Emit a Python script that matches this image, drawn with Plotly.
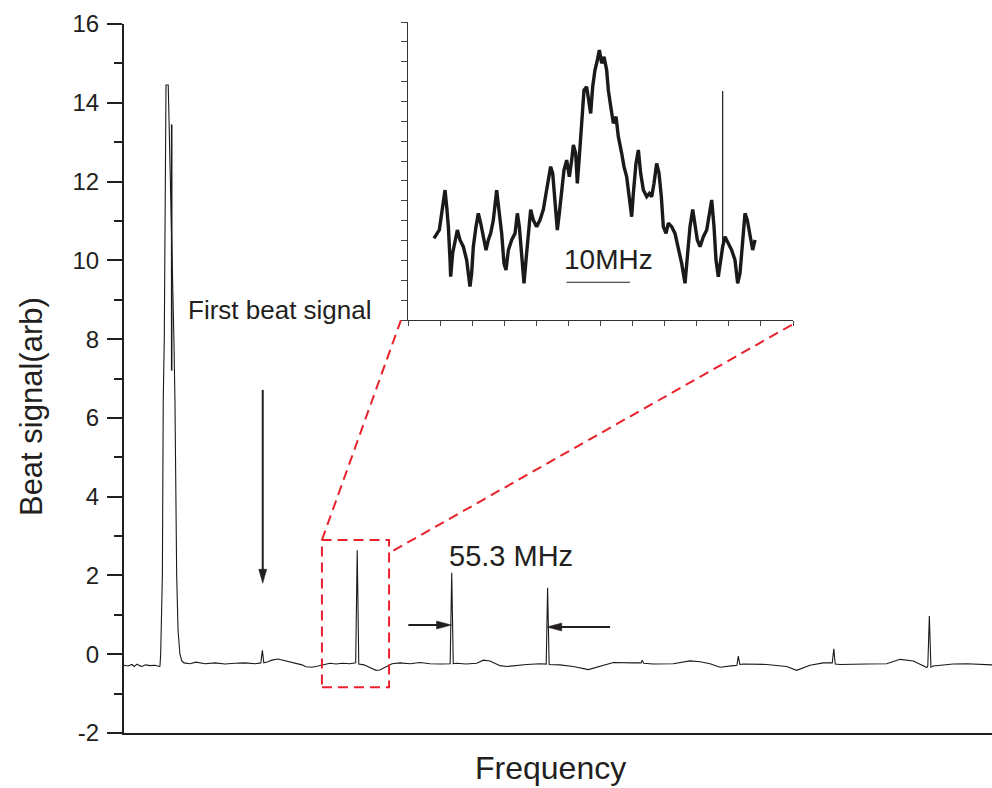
import plotly.graph_objects as go

# ---------------- main spectrum (x in MHz, y in arb) ----------------
main_x = [0.0, 2.3, 4.6, 6.0, 7.6, 9.0, 10.5, 12.5, 15.1, 18.0, 20.3, 20.9, 21.3, 22.3, 22.8, 23.4,
          24.4, 25.7, 29.0, 29.6, 30.6, 31.4, 32.5, 33.7, 34.9, 38.3, 41.8, 47.1, 52.9, 58.7, 64.5,
          70.3, 76.1, 79.5, 80.4, 81.2, 83.7, 86.0, 89.5, 93.0, 96.4, 99.9, 103.4, 105.7, 109.2,
          112.7, 116.2, 119.7, 123.2, 126.7, 131.3, 134.6, 135.5, 136.4, 139.4, 142.9, 146.4, 148.6,
          152.2, 155.7, 160.4, 166.2, 172.0, 177.8, 183.6, 189.5, 190.4, 191.3, 193.3, 198.7, 204.9,
          208.8, 212.6, 218.5, 222.5, 226.0, 234.0, 241.7, 245.3, 246.1, 247.0, 253.3, 261.0, 269.8,
          276.6, 284.3, 295.9, 300.4, 301.1, 301.9, 307.5, 319.1, 328.8, 334.7, 340.5, 346.3, 354.0,
          356.1, 356.9, 357.8, 359.8, 373.4, 385.0, 390.8, 398.6, 406.3, 411.5, 412.4, 413.2, 416.0,
          431.5, 443.1, 450.9, 458.6, 466.4, 467.0, 467.9, 468.8, 470.2, 481.8, 489.6, 503.1, 504.3]
main_y = [-0.28, -0.30, -0.26, -0.31, -0.25, -0.29, -0.31, -0.27, -0.29, -0.28, -0.31, -0.30, 0.0,
          2.0, 6.45, 8.0, 14.45, 14.45, 8.0, 6.45, 2.0, 0.6, 0.0, -0.18, -0.22, -0.24, -0.20, -0.24,
          -0.22, -0.25, -0.23, -0.22, -0.24, -0.22, 0.10, -0.22, -0.19, -0.15, -0.12, -0.16, -0.20,
          -0.24, -0.27, -0.32, -0.33, -0.30, -0.26, -0.23, -0.25, -0.23, -0.24, -0.22, 2.64, -0.25,
          -0.27, -0.34, -0.41, -0.40, -0.32, -0.24, -0.22, -0.24, -0.21, -0.24, -0.25, -0.24, 2.07,
          -0.24, -0.23, -0.25, -0.23, -0.15, -0.17, -0.29, -0.31, -0.29, -0.26, -0.24, -0.25, 1.69,
          -0.26, -0.27, -0.31, -0.39, -0.31, -0.21, -0.22, -0.22, -0.15, -0.23, -0.25, -0.24, -0.17,
          -0.19, -0.24, -0.33, -0.29, -0.28, -0.05, -0.26, -0.25, -0.26, -0.31, -0.41, -0.28, -0.22,
          -0.22, 0.14, -0.25, -0.26, -0.25, -0.24, -0.13, -0.17, -0.34, -0.30, 0.97, -0.33, -0.30,
          -0.25, -0.24, -0.27, -0.27]

# second (inner) line of the saturated first beat peak
spike_x = [27.7, 27.7]
spike_y = [7.2, 13.45]

y_tickvals = [-2, 0, 2, 4, 6, 8, 10, 12, 14, 16]
y_ticktext = ["-2", "0", "2", "4", "6", "8", "10", "12", "14", "16"]

# ---------------- inset: zoom on the boxed peak (x in MHz) ----------------
inset_x = [4.05, 4.47, 4.88, 5.25, 5.51, 5.77, 6.03, 6.29, 6.55, 6.65, 6.96, 7.32, 7.69, 8.10, 8.62,
           9.14, 9.66, 9.92, 10.18, 10.60, 10.96, 11.33, 11.74, 12.16, 12.52, 12.88, 13.30, 13.82,
           14.23, 14.60, 14.96, 15.27, 15.64, 16.16, 16.68, 17.04, 17.35, 17.72, 18.08, 18.39, 18.75,
           19.12, 19.53, 20.05, 20.57, 21.09, 21.51, 21.87, 22.23, 22.55, 22.91, 23.27, 23.58, 23.95,
           24.31, 24.73, 25.14, 25.51, 25.77, 26.13, 26.39, 26.70, 27.07, 27.43, 27.84, 28.21, 28.47,
           28.78, 29.14, 29.51, 29.82, 30.18, 30.55, 30.96, 31.22, 31.59, 32.00, 32.42, 32.78, 33.30,
           33.66, 34.08, 34.50, 34.86, 35.12, 35.53, 35.90, 36.26, 36.68, 37.20, 37.61, 37.98, 38.34,
           38.75, 39.12, 39.48, 39.79, 40.21, 40.57, 41.09, 41.61, 42.13, 42.65, 43.17, 43.53, 43.95,
           44.37, 44.73, 45.09, 45.51, 46.03, 46.55, 47.07, 47.33, 47.69, 48.00, 48.36, 48.73, 49.04,
           49.40, 49.92, 50.44, 50.96, 51.38, 51.74, 52.16, 52.52, 52.88, 53.30, 53.72, 54.08]
inset_y = [4.11, 4.36, 4.53, 5.37, 6.04, 6.54, 5.70, 4.70, 3.02, 2.18, 3.36, 3.86, 4.53, 4.03, 3.69,
           3.02, 1.68, 2.35, 3.69, 4.70, 5.37, 4.87, 4.19, 3.52, 4.03, 4.36, 5.03, 6.54, 5.37, 4.36,
           2.85, 2.52, 3.52, 4.03, 4.36, 5.37, 4.70, 3.02, 1.85, 3.02, 4.53, 5.56, 5.03, 4.70, 5.03,
           5.56, 6.37, 7.05, 7.72, 7.38, 5.70, 4.53, 5.37, 6.37, 7.55, 8.05, 7.21, 8.05, 8.81, 8.39,
           6.88, 8.22, 10.23, 11.57, 11.74, 11.07, 10.40, 11.74, 12.58, 13.08, 13.59, 12.92, 13.25,
           12.58, 11.57, 10.76, 9.90, 10.23, 9.23, 8.39, 7.72, 7.21, 6.04, 5.20, 6.37, 7.88, 8.56,
           7.38, 6.54, 6.21, 6.37, 6.21, 6.88, 7.88, 7.38, 6.21, 4.70, 4.36, 4.87, 4.70, 4.36, 3.69,
           2.85, 1.85, 3.02, 4.70, 5.56, 4.70, 4.03, 3.69, 4.19, 4.53, 5.56, 6.04, 4.70, 3.02, 2.18,
           3.19, 3.69, 4.19, 3.86, 3.52, 3.02, 1.85, 2.35, 4.19, 5.37, 5.03, 4.36, 3.52, 4.03]
inset_spike_x = [49.04, 49.04]
inset_spike_y = [3.69, 11.53]

FONT = "Liberation Sans, Arial, sans-serif"
INK = "#231f20"
RED = "#e8212b"

fig = go.Figure()
fig.add_trace(go.Scatter(x=main_x, y=main_y, mode="lines",
                         line=dict(color="#1a1a1a", width=1.1), xaxis="x", yaxis="y",
                         showlegend=False, hoverinfo="skip"))
fig.add_trace(go.Scatter(x=spike_x, y=spike_y, mode="lines",
                         line=dict(color="#1a1a1a", width=1.6), xaxis="x", yaxis="y",
                         showlegend=False, hoverinfo="skip"))
fig.add_trace(go.Scatter(x=inset_x, y=inset_y, mode="lines",
                         line=dict(color="#1a1a1a", width=3.4), xaxis="x2", yaxis="y2",
                         showlegend=False, hoverinfo="skip"))
fig.add_trace(go.Scatter(x=inset_spike_x, y=inset_spike_y, mode="lines",
                         line=dict(color="#1a1a1a", width=1.2), xaxis="x2", yaxis="y2",
                         showlegend=False, hoverinfo="skip"))

shapes = [
    # red dashed zoom box and connectors
    dict(type="rect", xref="x", yref="y", x0=115.0, x1=154.0, y0=-0.84, y1=2.90,
         line=dict(color=RED, width=2, dash="10px,6px")),
    dict(type="line", xref="x", yref="y", x0=115.0, y0=2.90, x1=160.9, y1=8.48,
         line=dict(color=RED, width=2, dash="10px,6px")),
    dict(type="line", xref="x", yref="y", x0=156.5, y0=2.63, x1=388.7, y1=8.38,
         line=dict(color=RED, width=2, dash="10px,6px")),
    # arrow shafts
    dict(type="line", xref="x", yref="y", x0=80.6, y0=6.71, x1=80.6, y1=2.1,
         line=dict(color=INK, width=2)),
    dict(type="line", xref="x", yref="y", x0=165.2, y0=0.74, x1=184.0, y1=0.74,
         line=dict(color=INK, width=2)),
    dict(type="line", xref="x", yref="y", x0=282.4, y0=0.69, x1=252.0, y1=0.69,
         line=dict(color=INK, width=2)),
    # arrow heads (pixel-sized, anchored at tips)
    dict(type="path", xref="x", yref="y", xsizemode="pixel", ysizemode="pixel",
         xanchor=80.6, yanchor=1.80, path="M0,0 L-4,14 L4,14 Z",
         fillcolor=INK, line=dict(color=INK, width=0.5)),
    dict(type="path", xref="x", yref="y", xsizemode="pixel", ysizemode="pixel",
         xanchor=190.3, yanchor=0.74, path="M0,0 L-15,4 L-15,-4 Z",
         fillcolor=INK, line=dict(color=INK, width=0.5)),
    dict(type="path", xref="x", yref="y", xsizemode="pixel", ysizemode="pixel",
         xanchor=245.6, yanchor=0.69, path="M0,0 L15,4 L15,-4 Z",
         fillcolor=INK, line=dict(color=INK, width=0.5)),
    # 10 MHz scale bar in inset
    dict(type="line", xref="x2", yref="y2", x0=24.7, x1=34.6, y0=1.9, y1=1.9,
         line=dict(color=INK, width=1.2)),
]

annotations = [
    dict(text="Beat signal(arb)", xref="paper", yref="paper", x=-0.1071, y=0.4585,
         textangle=-90, showarrow=False, xanchor="center", yanchor="middle",
         font=dict(family=FONT, size=31, color=INK)),
    dict(text="Frequency", xref="paper", yref="paper", x=0.4908, y=-0.0492,
         showarrow=False, xanchor="center", yanchor="middle",
         font=dict(family=FONT, size=32, color=INK)),
    dict(text="First beat signal", xref="paper", yref="paper", x=0.0714, y=0.5949,
         showarrow=False, xanchor="left", yanchor="middle",
         font=dict(family=FONT, size=26, color=INK)),
    dict(text="55.3 MHz", xref="paper", yref="paper", x=0.4459, y=0.2489,
         showarrow=False, xanchor="center", yanchor="middle",
         font=dict(family=FONT, size=29, color=INK)),
    dict(text="10MHz", xref="x2", yref="y2", x=31.3, y=3.07,
         showarrow=False, xanchor="center", yanchor="middle",
         font=dict(family=FONT, size=28, color=INK)),
]

fig.update_layout(
    width=992, height=788,
    margin=dict(l=124, r=0, t=22, b=55),
    paper_bgcolor="white", plot_bgcolor="white",
    font=dict(family=FONT, color=INK),
    showlegend=False,
    xaxis=dict(domain=[0, 1], range=[0, 504.3], showline=True, linewidth=2, linecolor=INK,
               showticklabels=False, ticks="", showgrid=False, zeroline=False, anchor="y"),
    yaxis=dict(domain=[0, 709 / 711], range=[-2, 16], tickvals=y_tickvals, ticktext=y_ticktext,
               ticks="outside", ticklen=15, tickwidth=2, tickcolor=INK,
               showline=True, linewidth=2, linecolor=INK, showgrid=False, zeroline=False,
               tickfont=dict(family=FONT, size=24, color=INK), ticklabelstandoff=3,
               minor=dict(ticks="outside", ticklen=8, tickwidth=2, tickcolor=INK, dtick=1,
                          tick0=-1, showgrid=False),
               anchor="x"),
    xaxis2=dict(domain=[0.32719, 0.77074], range=[0, 60], anchor="y2", showline=True,
                linewidth=1, linecolor="#333333", ticks="outside", ticklen=5, tickwidth=1,
                tickcolor="#444444", dtick=5, tick0=0, showticklabels=False, showgrid=False,
                zeroline=False),
    yaxis2=dict(domain=[(733 - 320) / 711, 1.0], range=[0, 15], anchor="x2", showline=True,
                linewidth=1, linecolor="#333333", ticks="outside", ticklen=6, tickwidth=1,
                tickcolor="#444444", dtick=1, tick0=0, showticklabels=False, showgrid=False,
                zeroline=False),
    shapes=shapes,
    annotations=annotations,
)

fig.write_html("out.html")
